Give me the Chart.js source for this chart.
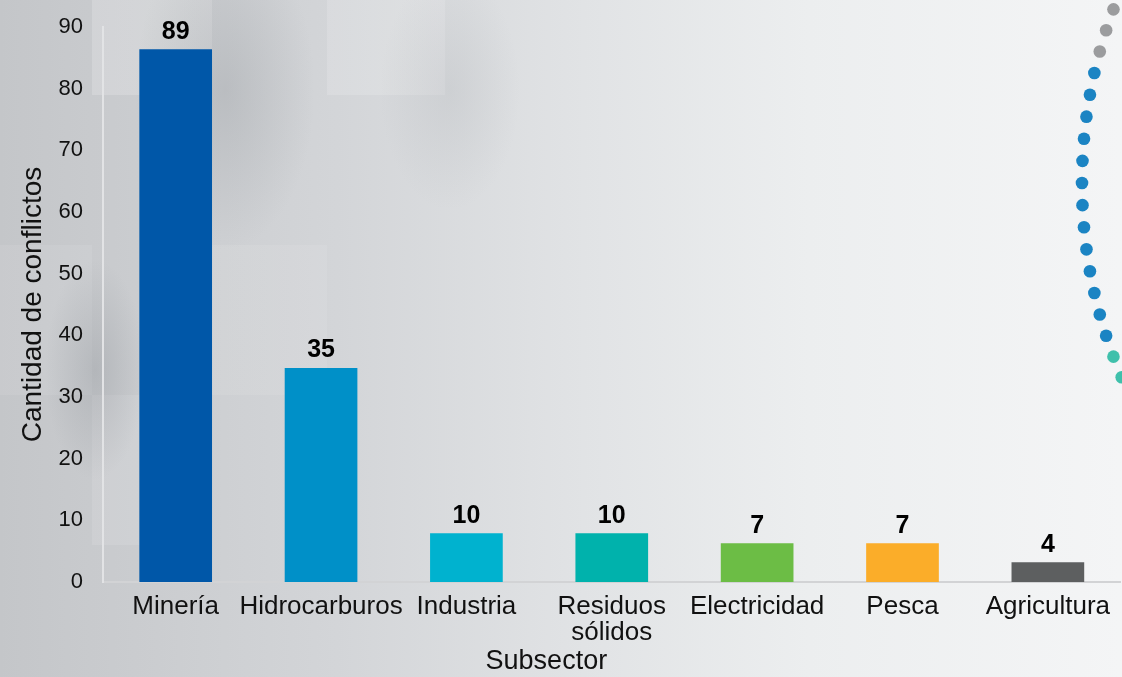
<!DOCTYPE html>
<html lang="es">
<head>
  <meta charset="UTF-8">
  <title>Conflictos por subsector</title>
  <script src="https://cdn.jsdelivr.net/npm/chart.js"></script>
  <style>
    html, body {
      margin: 0;
      padding: 0;
      width: 1122px;
      height: 677px;
      overflow: hidden;
    }
    body {
      background:
        radial-gradient(ellipse 90px 160px at 225px 90px, rgba(140,145,150,0.30) 0, rgba(140,145,150,0) 100%),
        radial-gradient(ellipse 70px 120px at 450px 90px, rgba(150,155,160,0.18) 0, rgba(150,155,160,0) 100%),
        radial-gradient(ellipse 50px 110px at 95px 370px, rgba(135,140,146,0.32) 0, rgba(135,140,146,0) 100%),
        linear-gradient(rgba(255,255,255,0.18), rgba(255,255,255,0.18)) 92px 0 / 120px 95px no-repeat,
        linear-gradient(rgba(255,255,255,0.15), rgba(255,255,255,0.15)) 327px 0 / 118px 95px no-repeat,
        linear-gradient(rgba(255,255,255,0.08), rgba(255,255,255,0.08)) 0 245px / 92px 150px no-repeat,
        linear-gradient(rgba(255,255,255,0.10), rgba(255,255,255,0.10)) 92px 395px / 120px 150px no-repeat,
        linear-gradient(rgba(255,255,255,0.08), rgba(255,255,255,0.08)) 212px 245px / 115px 150px no-repeat,
        linear-gradient(90deg, #c4c6c9 0%, #d3d5d8 30%, #e1e3e5 52%, #eceeef 72%, #f4f5f6 100%);
    }
    #wrap {
      position: absolute;
      left: 0;
      top: 0;
      width: 1122px;
      height: 677px;
    }
  </style>
</head>
<body>
  <div id="wrap"><canvas id="chart"></canvas></div>

  <script>
    const categories = ['Minería', 'Hidrocarburos', 'Industria', ['Residuos', 'sólidos'], 'Electricidad', 'Pesca', 'Agricultura'];
    // bar heights as drawn in the picture
    const values = [86.4, 34.7, 7.9, 7.9, 6.3, 6.3, 3.2];
    // numbers printed above the bars
    const valueLabels = ['89', '35', '10', '10', '7', '7', '4'];
    const barColors = ['#0057a8', '#0090c8', '#00b2cf', '#00b2ac', '#6cbd45', '#fbad29', '#5d5f60'];
    const yTicks = [0, 10, 20, 30, 40, 50, 60, 70, 80, 90];
    const xTitle = 'Subsector';

    const FONT = '"Liberation Sans", Arial, sans-serif';

    const valueLabelPlugin = {
      id: 'valueLabels',
      afterDatasetsDraw(chart) {
        const ctx = chart.ctx;
        const meta = chart.getDatasetMeta(0);
        ctx.save();
        ctx.font = 'bold 25px ' + FONT;
        ctx.fillStyle = '#000';
        ctx.textAlign = 'center';
        ctx.textBaseline = 'bottom';
        meta.data.forEach((bar, i) => {
          ctx.fillText(valueLabels[i], bar.x, bar.y - 5);
        });
        // x axis title sits between Industria and Residuos
        const xs = chart.scales.x;
        ctx.font = '27px ' + FONT;
        ctx.fillStyle = '#111';
        ctx.textBaseline = 'middle';
        ctx.fillText(xTitle, xs.getPixelForValue(2.55), chart.height - 15);
        ctx.restore();
      }
    };

    // dotted arc decoration on the right edge
    const arcPlugin = {
      id: 'dotArc',
      afterDraw(chart) {
        const ctx = chart.ctx;
        const cx = chart.width + 455, cy = 183, r = 495;
        ctx.save();
        for (let k = -8; k <= 10; k++) {
          const a = k * 0.0448;
          const x = cx - r * Math.cos(a);
          const y = cy + r * Math.sin(a);
          let col = '#1b84c3';
          if (k <= -6) col = '#9b9c9e';
          if (k >= 8) col = '#3fc0ab';
          ctx.beginPath();
          ctx.fillStyle = col;
          ctx.arc(x, y, 6.3, 0, Math.PI * 2);
          ctx.fill();
        }
        ctx.restore();
      }
    };

    const ctx = document.getElementById('chart').getContext('2d');
    const chart = new Chart(ctx, {
      type: 'bar',
      data: {
        labels: categories,
        datasets: [{
          data: values,
          backgroundColor: barColors,
          barPercentage: 0.5,
          categoryPercentage: 1.0
        }]
      },
      options: {
        responsive: true,
        maintainAspectRatio: false,
        animation: false,
        layout: { padding: { top: 0, right: 0, left: 19, bottom: 0 } },
        plugins: {
          legend: { display: false },
          tooltip: { enabled: false }
        },
        scales: {
          x: {
            grid: { display: false, drawTicks: false },
            border: { color: '#d2d3d5', width: 2 },
            afterFit(axis) { axis.height = 95; },
            ticks: {
              color: '#111',
              font: { family: FONT, size: 26, lineHeight: 1.0 },
              maxRotation: 0,
              minRotation: 0,
              autoSkip: false,
              padding: 12
            },
            title: { display: false }
          },
          y: {
            min: 0,
            max: 90,
            grid: { display: false, drawTicks: false },
            border: { color: '#e2e3e5', width: 2 },
            afterFit(axis) {
              axis.width = 84;
              axis.paddingTop = 27;
            },
            afterBuildTicks(axis) {
              axis.ticks = yTicks.map(v => ({ value: v }));
            },
            ticks: {
              color: '#111',
              font: { family: FONT, size: 22 },
              padding: 20
            },
            title: {
              display: true,
              text: 'Cantidad de conflictos',
              color: '#111',
              font: { family: FONT, size: 28, lineHeight: 1.0 },
              padding: { top: 0, bottom: 9 }
            }
          }
        }
      },
      plugins: [valueLabelPlugin, arcPlugin]
    });
  </script>
</body>
</html>
